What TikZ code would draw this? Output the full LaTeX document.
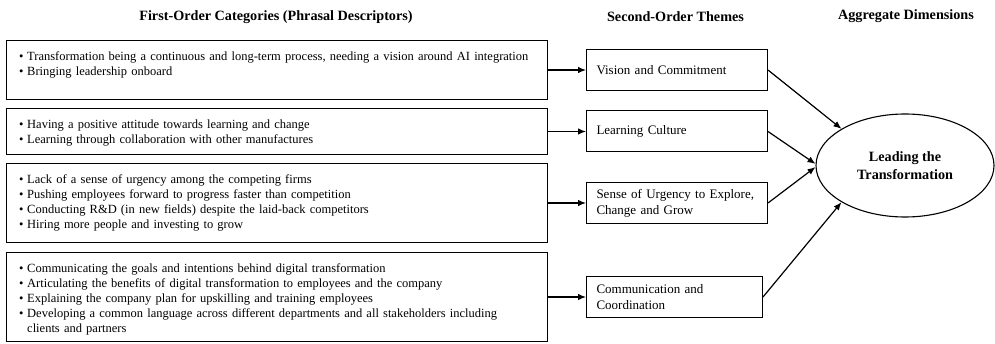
\documentclass[tikz,border=0pt]{standalone}
\usepackage{fontspec}
\setmainfont{Liberation Serif}
\usetikzlibrary{arrows.meta,shapes.geometric}
\newcommand{\bl}[1]{\par\noindent\makebox[8pt][l]{\textbullet}\parbox[t]{520pt}{\raggedright #1}}
\begin{document}
\begin{tikzpicture}[x=1pt,y=-1pt,
  fbox/.style={draw, line width=1pt, minimum width=541pt, inner sep=0pt, anchor=north west},
  ftext/.style={anchor=north west, inner sep=0pt, text width=530pt, align=left, font=\fontsize{12.5}{15}\selectfont},
  sbox/.style={draw, line width=1pt, anchor=north west, inner xsep=10pt, inner ysep=0pt, minimum height=41pt, align=left, font=\fontsize{13}{16}\selectfont},
  hdr/.style={font=\bfseries\fontsize{14.2}{17}\selectfont},
  arr/.style={-{Latex[length=8pt,width=6.5pt]}, line width=1.2pt}]
\useasboundingbox (0,0) rectangle (995,344);

% headers
\node[hdr] (h1) at (276,17) {First-Order Categories (Phrasal Descriptors)};
\node[hdr] (h2) at (675.5,16.5) {Second-Order Themes};
\node[hdr] (h3) at (906,16.5) {Aggregate Dimensions};

% first-order boxes
\node[fbox, minimum height=59pt] (f1) at (6,40) {};
\node[fbox, minimum height=46pt] (f2) at (6,108) {};
\node[fbox, minimum height=79pt] (f3) at (6,163) {};
\node[fbox, minimum height=89pt] (f4) at (6,252) {};

\node[ftext] (t1) at ([xshift=13pt,yshift=-5.5pt]f1.north west) {%
\bl{Transformation being a continuous and long-term process, needing a vision around AI integration}
\bl{Bringing leadership onboard}};
\node[ftext] (t2) at ([xshift=13pt,yshift=-5.5pt]f2.north west) {%
\bl{Having a positive attitude towards learning and change}
\bl{Learning through collaboration with other manufactures}};
\node[ftext] (t3) at ([xshift=13pt,yshift=-5.5pt]f3.north west) {%
\bl{Lack of a sense of urgency among the competing firms}
\bl{Pushing employees forward to progress faster than competition}
\bl{Conducting R\&D (in new fields) despite the laid-back competitors}
\bl{Hiring more people and investing to grow}};
\node[ftext] (t4) at ([xshift=13pt,yshift=-5.5pt]f4.north west) {%
\bl{Communicating the goals and intentions behind digital transformation}
\bl{Articulating the benefits of digital transformation to employees and the company}
\bl{Explaining the company plan for upskilling and training employees}
\bl{Developing a common language across different departments and all stakeholders including\\clients and partners}};

% second-order boxes
\node[sbox, text width=161pt] (s1) at (586,49) {Vision and Commitment};
\node[sbox, text width=161pt] (s2) at (586,110.5) {Learning Culture};
\node[sbox, text width=161pt] (s3) at (586,182) {Sense of Urgency to Explore,\\Change and Grow};
\node[sbox, text width=156pt] (s4) at (586,276) {Communication and\\Coordination};

% aggregate
\node[draw, ellipse, line width=1.1pt, minimum width=178pt, minimum height=103pt, inner sep=0pt,
      align=center, font=\bfseries\fontsize{14.2}{18}\selectfont] (E) at (905,165.5) {Leading the\\Transformation};

% arrows
\draw[arr] (f1.east) -- (s1.west);
\draw[arr] (f2.east) -- (s2.west);
\draw[arr] (f3.east) -- (s3.west);
\draw[arr] (f4.east) -- (s4.west);
\draw[arr] (s1.east) -- (E.150);
\draw[arr] (s2.east) -- (E.179);
\draw[arr] (s3.east) -- (E.181);
\draw[arr] (s4.east) -- (E.210);
\end{tikzpicture}
\end{document}
